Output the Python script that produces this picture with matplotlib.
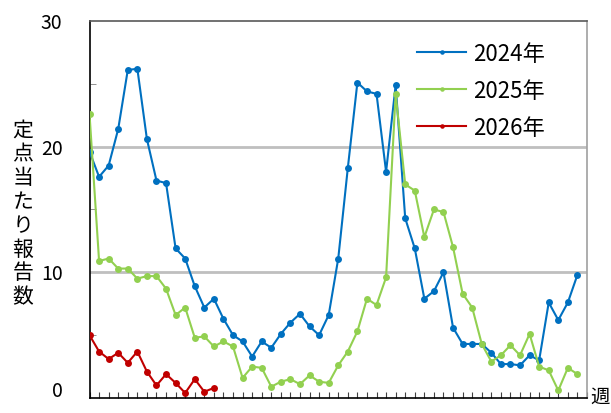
import matplotlib
matplotlib.use("Agg")
import matplotlib.pyplot as plt
import matplotlib.transforms as mtransforms
import numpy as np

plt.rcParams['font.family'] = ['Noto Sans CJK JP', 'DejaVu Sans']

# -------------------------------
# Data
# -------------------------------
weeks = np.arange(0, 52)

v2024 = [19.6, 17.6, 18.5, 21.4, 26.1, 26.2, 20.6, 17.3, 17.1, 11.9,
         11.1, 8.9, 7.2, 7.9, 6.3, 5.0, 4.5, 3.3, 4.5, 4.0,
         5.1, 6.0, 6.7, 5.7, 5.0, 6.6, 11.1, 18.3, 25.1, 24.4,
         24.2, 18.0, 24.9, 14.3, 11.9, 7.9, 8.5, 10.0, 5.6, 4.3,
         4.3, 4.3, 3.6, 2.7, 2.7, 2.6, 3.4, 3.0, 7.6, 6.2,
         7.6, 9.8]

v2025 = [22.6, 10.9, 11.1, 10.3, 10.3, 9.5, 9.7, 9.7, 8.7, 6.6,
         7.2, 4.8, 4.9, 4.1, 4.5, 4.1, 1.6, 2.5, 2.4, 0.9,
         1.3, 1.5, 1.1, 1.8, 1.3, 1.2, 2.6, 3.7, 5.3, 7.9,
         7.4, 9.6, 24.2, 17.0, 16.5, 12.8, 15.0, 14.8, 12.0, 8.3,
         7.2, 4.3, 2.9, 3.4, 4.2, 3.4, 5.1, 2.5, 2.2, 0.6,
         2.4, 1.9]

v2026 = [5.0, 3.7, 3.1, 3.6, 2.8, 3.7, 2.1, 1.0, 1.9, 1.2,
         0.4, 1.5, 0.5, 0.8]

ytick_vals = [0, 10, 20, 30]

series = [
    ("2024年", v2024, "#0070C0"),
    ("2025年", v2025, "#92D050"),
    ("2026年", v2026, "#C00000"),
]

# -------------------------------
# Figure
# -------------------------------
fig = plt.figure(figsize=(6.11, 4.14), dpi=100)
ax = fig.add_axes([0.1465, 0.0362, 0.8142, 0.9107])

for label, vals, color in series:
    ax.plot(weeks[:len(vals)], vals, color=color, lw=1.5, marker="o",
            markersize=5, markeredgewidth=0, label=label, zorder=3)

ax.set_xlim(0, 52)
ax.set_ylim(0, 30)

ax.set_yticks(ytick_vals)
ax.set_yticklabels([])
ax.set_yticks([5, 15, 25], minor=True)
ax.set_xticks(np.arange(0, 53))
ax.set_xticklabels([])
ax.tick_params(axis="y", which="major", length=0)
ax.tick_params(axis="y", which="minor", length=4, direction="in", color="#808080")
ax.tick_params(axis="x", which="major", length=4, direction="in", color="#404040")

# y tick labels drawn by hand (Excel nudges the bottom one upward)
ytrans = mtransforms.blended_transform_factory(ax.transAxes, ax.transData)
for v in ytick_vals:
    dy = 8 if v == 0 else -1.5
    t = ytrans + mtransforms.ScaledTranslation(-27 / 100, dy / 100, fig.dpi_scale_trans)
    ax.text(0, v, str(v), transform=t, ha="right", va="center", fontsize=14,
            clip_on=False)

for y in [10, 20]:
    ax.axhline(y, color="#BFBFBF", lw=2, zorder=1)

ax.spines["left"].set_color("black")
ax.spines["bottom"].set_color("black")
ax.spines["top"].set_color("#595959")
ax.spines["right"].set_color("#A0A0A0")
for s in ax.spines.values():
    s.set_linewidth(1.2)

ax.legend(loc="upper right", bbox_to_anchor=(0.915, 0.945), frameon=False,
          fontsize=16, handlelength=2.2, markerscale=0.65, labelspacing=0.63,
          borderaxespad=0, borderpad=0, handletextpad=0.3)

# vertical y-axis label
fig.text(23 / 611, 1 - 214 / 414, "\n".join("定点当たり報告数"),
         ha="center", va="center", fontsize=15, linespacing=1.1)

fig.text(600 / 611, 1 - 397 / 414, "週", ha="center", va="center", fontsize=14)

plt.savefig("out.png", dpi=100)
